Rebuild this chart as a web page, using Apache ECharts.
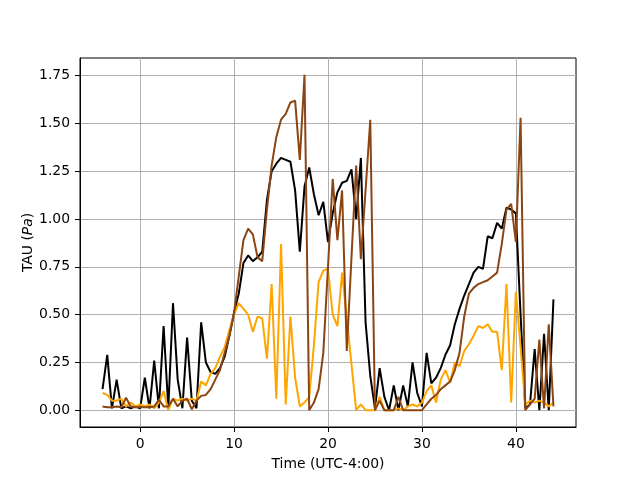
<!DOCTYPE html>
<html>
<head>
<meta charset="utf-8">
<script src="https://cdn.jsdelivr.net/npm/echarts@6/dist/echarts.min.js"></script>
<style>
  html, body { margin: 0; padding: 0; background: #fff; }
  #chart { width: 640px; height: 480px; }
</style>
</head>
<body>
<div id="chart"></div>
<script>
// hours, UTC-4
const times = [
  -4, -3.5, -3, -2.5, -2, -1.5, -1, -0.5, 0, 0.5, 1, 1.5, 2, 2.5, 3, 3.5, 4, 4.5, 5, 5.5,
  6, 6.5, 7, 7.5, 8, 8.5, 9, 9.5, 10, 10.5, 11, 11.5, 12, 12.5, 13, 13.5, 14, 14.5, 15, 15.5,
  16, 16.5, 17, 17.5, 18, 18.5, 19, 19.5, 20, 20.5, 21, 21.5, 22, 22.5, 23, 23.5, 24, 24.5, 25, 25.5,
  26, 26.5, 27, 27.5, 28, 28.5, 29, 29.5, 30, 30.5, 31, 31.5, 32, 32.5, 33, 33.5, 34, 34.5, 35, 35.5,
  36, 36.5, 37, 37.5, 38, 38.5, 39, 39.5, 40, 40.5, 41, 41.5, 42, 42.5, 43, 43.5, 44
];

const tauBlack = [
  0.11, 0.29, 0.01, 0.16, 0.01, 0.02, 0.01, 0.02, 0.01, 0.17, 0.01, 0.26, 0.01, 0.44, 0.01, 0.56, 0.16, 0.01, 0.38, 0.05,
  0.01, 0.46, 0.25, 0.20, 0.19, 0.22, 0.28, 0.39, 0.51, 0.61, 0.77, 0.81, 0.78, 0.80, 0.83, 1.10, 1.25, 1.29, 1.32, 1.31,
  1.30, 1.15, 0.83, 1.17, 1.27, 1.13, 1.02, 1.09, 0.88, 1.03, 1.14, 1.19, 1.20, 1.26, 1.00, 1.32, 0.46, 0.18, 0.01, 0.22,
  0.07, 0.00, 0.13, 0.00, 0.13, 0.02, 0.25, 0.09, 0.02, 0.30, 0.14, 0.17, 0.22, 0.29, 0.34, 0.45, 0.53, 0.60, 0.66, 0.72,
  0.75, 0.74, 0.91, 0.90, 0.98, 0.95, 1.06, 1.05, 1.03, 0.50, 0.01, 0.03, 0.32, 0.00, 0.40, 0.00, 0.58
];

const tauOrange = [
  0.09, 0.08, 0.05, 0.05, 0.06, 0.02, 0.04, 0.02, 0.03, 0.02, 0.03, 0.01, 0.04, 0.10, 0.00, 0.06, 0.05, 0.06, 0.05, 0.06,
  0.05, 0.15, 0.13, 0.19, 0.22, 0.28, 0.33, 0.42, 0.50, 0.56, 0.53, 0.50, 0.41, 0.49, 0.48, 0.27, 0.66, 0.06, 0.87, 0.03,
  0.49, 0.17, 0.02, 0.04, 0.07, 0.34, 0.67, 0.73, 0.74, 0.50, 0.44, 0.72, 0.48, 0.24, 0.00, 0.03, 0.00, 0.00, 0.00, 0.07,
  0.00, 0.00, 0.00, 0.01, 0.00, 0.02, 0.03, 0.02, 0.04, 0.10, 0.13, 0.04, 0.16, 0.21, 0.145, 0.25, 0.23, 0.31, 0.345, 0.39,
  0.44, 0.43, 0.45, 0.41, 0.41, 0.21, 0.66, 0.04, 0.62, 0.33, 0.03, 0.05, 0.04, 0.05, 0.04, 0.02, 0.04
];

const tauBrown = [
  0.02, 0.015, 0.015, 0.02, 0.015, 0.065, 0.02, 0.015, 0.015, 0.015, 0.015, 0.02, 0.055, 0.02, 0.02, 0.06, 0.02, 0.05, 0.06, 0.005,
  0.05, 0.075, 0.08, 0.11, 0.16, 0.21, 0.30, 0.39, 0.51, 0.70, 0.89, 0.95, 0.92, 0.80, 0.78, 1.05, 1.28, 1.43, 1.52, 1.55,
  1.61, 1.62, 1.31, 1.755, 0.00, 0.04, 0.11, 0.30, 0.75, 1.21, 0.89, 1.15, 0.31, 0.80, 1.28, 0.79, 1.15, 1.52, 0.00, 0.05,
  0.00, 0.00, 0.00, 0.07, 0.00, 0.00, 0.00, 0.00, 0.00, 0.03, 0.06, 0.08, 0.11, 0.13, 0.15, 0.21, 0.30, 0.49, 0.61, 0.64,
  0.66, 0.67, 0.68, 0.70, 0.72, 0.87, 1.05, 1.08, 0.88, 1.53, 0.00, 0.03, 0.06, 0.37, 0.01, 0.45, 0.02
];

const xTicks = [0, 10, 20, 30, 40];
const yTicks = [0, 0.25, 0.5, 0.75, 1.0, 1.25, 1.5, 1.75];

const FONT = 'DejaVu Sans';
const FS = 13.9;

function pairs(values) {
  return times.map((t, i) => [t, values[i]]);
}

function lineSeries(values, color) {
  return {
    type: 'line',
    data: pairs(values),
    showSymbol: false,
    lineStyle: { color: color, width: 2 },
    itemStyle: { color: color }
  };
}

const chart = echarts.init(document.getElementById('chart'), null, { renderer: 'canvas' });

const option = {
  animation: false,
  backgroundColor: '#ffffff',
  grid: {
    left: 80,
    top: 58,
    width: 496,
    height: 369,
    show: true,
    borderColor: '#000',
    borderWidth: 1,
    backgroundColor: 'transparent'
  },
  xAxis: {
    type: 'value',
    min: -6.4,
    max: 46.4,
    name: 'Time (UTC-4:00)',
    nameLocation: 'middle',
    nameGap: 30,
    nameMoveOverlap: false,
    nameTextStyle: { fontFamily: FONT, fontSize: FS, color: '#000' },
    axisLine: { show: true, onZero: false, lineStyle: { color: '#000', width: 1 } },
    axisTick: { show: true, length: 5, customValues: xTicks, lineStyle: { color: '#000' } },
    axisLabel: {
      customValues: xTicks,
      margin: 10,
      fontFamily: FONT,
      fontSize: FS,
      color: '#000'
    },
    splitLine: { show: true, lineStyle: { color: '#b0b0b0', width: 1 } }
  },
  yAxis: {
    type: 'value',
    min: -0.0878,
    max: 1.8428,
    name: 'TAU ({i|Pa})',
    nameLocation: 'middle',
    nameGap: 45,
    nameMoveOverlap: false,
    nameTextStyle: {
      fontFamily: FONT,
      fontSize: FS,
      color: '#000',
      rich: { i: { fontFamily: FONT, fontSize: FS, fontStyle: 'italic', color: '#000' } }
    },
    axisLine: { show: true, onZero: false, lineStyle: { color: '#000', width: 1 } },
    axisTick: { show: true, length: 5, customValues: yTicks, lineStyle: { color: '#000' } },
    axisLabel: {
      customValues: yTicks,
      margin: 10,
      fontFamily: FONT,
      fontSize: FS,
      color: '#000',
      formatter: v => v.toFixed(2)
    },
    splitLine: { show: true, lineStyle: { color: '#b0b0b0', width: 1 } }
  },
  series: [
    lineSeries(tauBlack, '#000000'),
    lineSeries(tauOrange, '#ffa500'),
    lineSeries(tauBrown, '#8b4513')
  ]
};

chart.setOption(option);
</script>
</body>
</html>
